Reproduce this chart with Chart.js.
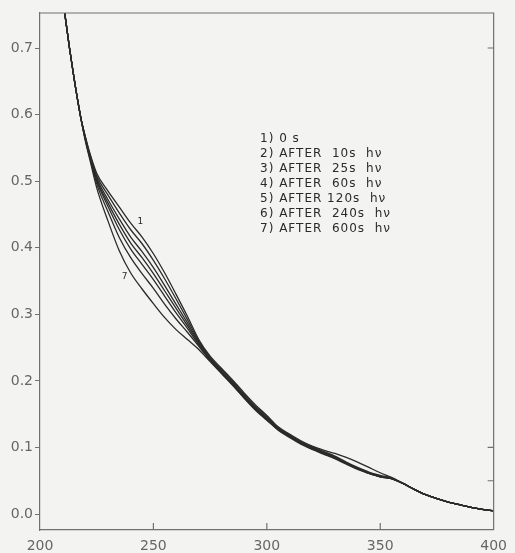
<!DOCTYPE html>
<html>
<head>
<meta charset="utf-8">
<script src="https://cdn.jsdelivr.net/npm/chart.js@4.4.1/dist/chart.umd.min.js"></script>
<style>
  html, body { margin: 0; padding: 0; background: #f3f3f1; }
  canvas { display: block; }
</style>
</head>
<body>
<canvas id="spectra" width="515" height="553"></canvas>
<script>
// wavelength (nm) grid shared by all the spectra
const wavelengths = [209, 211, 213, 215, 218,
  220, 222, 225, 230, 235, 240, 245, 250, 255, 260, 265, 270, 275, 280, 285, 290, 295,
  300, 305, 310, 315, 320, 325, 330, 335, 340, 345, 350, 355,
  360, 365, 370, 375, 380, 385, 390, 395, 400];

// the curves lie on top of each other at the short and long ends
const headAbs = [0.80, 0.75, 0.70, 0.655, 0.595];
const tailAbs = [0.046, 0.037, 0.029, 0.023, 0.018, 0.014, 0.010, 0.007, 0.005];

// 220 .. 355 nm, where they spread apart
const mid1 = [.567, .542, .512, .485, .461, .437, .416, .391, .362, .330, .297, .262, .237, .219, .201, .182, .164, .148, .131, .120, .110, .102, .096, .091, .085, .078, .070, .062, .055];
const mid2 = [.566, .540, .508, .479, .452, .427, .406, .381, .353, .323, .292, .260, .235, .217, .199, .180, .162, .147, .130, .119, .109, .101, .094, .087, .078, .070, .063, .058, .054];
const mid3 = [.565, .538, .505, .472, .443, .416, .394, .370, .343, .315, .287, .258, .233, .215, .197, .178, .160, .145, .129, .118, .108, .100, .093, .086, .077, .069, .062, .057, .053];
const mid4 = [.564, .537, .502, .467, .435, .407, .385, .361, .335, .309, .283, .256, .232, .214, .196, .177, .159, .144, .128, .117, .107, .099, .092, .085, .077, .069, .062, .057, .053];
const mid5 = [.563, .536, .500, .462, .427, .398, .375, .352, .327, .302, .279, .254, .232, .213, .195, .176, .158, .143, .127, .116, .106, .098, .091, .084, .076, .068, .061, .056, .053];
const mid6 = [.562, .535, .496, .454, .415, .385, .361, .339, .315, .293, .273, .252, .231, .212, .194, .175, .157, .142, .127, .116, .106, .098, .091, .084, .076, .068, .061, .056, .053];
const mid7 = [.560, .532, .490, .440, .395, .362, .338, .316, .295, .277, .262, .247, .229, .211, .193, .174, .156, .141, .126, .115, .105, .097, .090, .083, .075, .067, .061, .056, .053];

const legendLines = [
  '1) 0 s',
  '2) AFTER  10s  hν',
  '3) AFTER  25s  hν',
  '4) AFTER  60s  hν',
  '5) AFTER 120s  hν',
  '6) AFTER  240s  hν',
  '7) AFTER  600s  hν'
];
const xTicks = [200, 250, 300, 350, 400];
const yTicks = [0.0, 0.1, 0.2, 0.3, 0.4, 0.5, 0.6, 0.7];
const innerXTicks = [250, 300, 350];
const innerYTicks = [0.7, 0.1, 0.05];

const allMids = [mid1, mid2, mid3, mid4, mid5, mid6, mid7];

function spectrum(mid) {
  const ys = headAbs.concat(mid, tailAbs);
  return wavelengths.map((w, i) => ({ x: w, y: ys[i] }));
}

const datasets = allMids.map((mid, i) => ({
  label: 'curve ' + (i + 1),
  data: spectrum(mid),
  borderColor: '#2b2b2b',
  borderWidth: 1.3,
  pointRadius: 0,
  cubicInterpolationMode: 'monotone',
  fill: false
}));

const extras = {
  id: 'extras',
  beforeDraw(chart) {
    const ctx = chart.ctx;
    ctx.save();
    ctx.fillStyle = '#f3f3f1';
    ctx.fillRect(0, 0, chart.width, chart.height);
    ctx.restore();
  },
  afterDraw(chart) {
    const { ctx, chartArea: a, scales: { x, y } } = chart;
    ctx.save();
    ctx.strokeStyle = '#707070';
    ctx.lineWidth = 1.2;
    // top and right sides of the frame
    ctx.beginPath();
    ctx.moveTo(a.left, a.top);
    ctx.lineTo(a.right, a.top);
    ctx.lineTo(a.right, a.bottom);
    ctx.stroke();
    // small inward ticks
    ctx.beginPath();
    for (const v of innerXTicks) {
      const px = x.getPixelForValue(v);
      ctx.moveTo(px, a.bottom);
      ctx.lineTo(px, a.bottom - 7);
    }
    for (const v of innerYTicks) {
      const py = y.getPixelForValue(v);
      ctx.moveTo(a.right, py);
      ctx.lineTo(a.right - 6, py);
    }
    ctx.stroke();

    // legend block
    ctx.fillStyle = '#2a2a2a';
    ctx.font = '12px "DejaVu Sans"';
    ctx.letterSpacing = '1px';
    ctx.textBaseline = 'middle';
    const lx = x.getPixelForValue(297);
    legendLines.forEach((t, i) => {
      ctx.fillText(t, lx, y.getPixelForValue(0.563) + i * 15);
    });

    // curve numbers
    ctx.letterSpacing = '0px';
    ctx.font = '9px "DejaVu Sans"';
    ctx.fillText('1', x.getPixelForValue(243), y.getPixelForValue(0.439));
    ctx.fillText('7', x.getPixelForValue(236), y.getPixelForValue(0.356));
    ctx.restore();
  }
};

new Chart(document.getElementById('spectra'), {
  type: 'line',
  data: { datasets: datasets },
  plugins: [extras],
  options: {
    responsive: false,
    animation: false,
    layout: { padding: { top: 13, right: 19, left: 0, bottom: 0 } },
    plugins: { legend: { display: false }, tooltip: { enabled: false } },
    scales: {
      x: {
        type: 'linear',
        min: 200,
        max: 400,
        afterBuildTicks: s => { s.ticks = xTicks.map(v => ({ value: v })); },
        afterFit: s => { s.height = 23; },
        ticks: {
          callback: v => String(v),
          color: '#666',
          font: { family: 'DejaVu Sans', size: 14 },
          padding: 8,
          maxRotation: 0
        },
        grid: { drawOnChartArea: false, drawTicks: false },
        border: { display: true, color: '#707070', width: 1.2 }
      },
      y: {
        type: 'linear',
        min: -0.024,
        max: 0.7526,
        afterBuildTicks: s => { s.ticks = yTicks.map(v => ({ value: v })); },
        afterFit: s => { s.width = 40; },
        ticks: {
          callback: v => v.toFixed(1),
          color: '#666',
          font: { family: 'DejaVu Sans', size: 14 },
          padding: 2
        },
        grid: { drawOnChartArea: false, tickLength: 5, color: '#707070' },
        border: { display: true, color: '#707070', width: 1.2 }
      }
    }
  }
});
</script>
</body>
</html>
